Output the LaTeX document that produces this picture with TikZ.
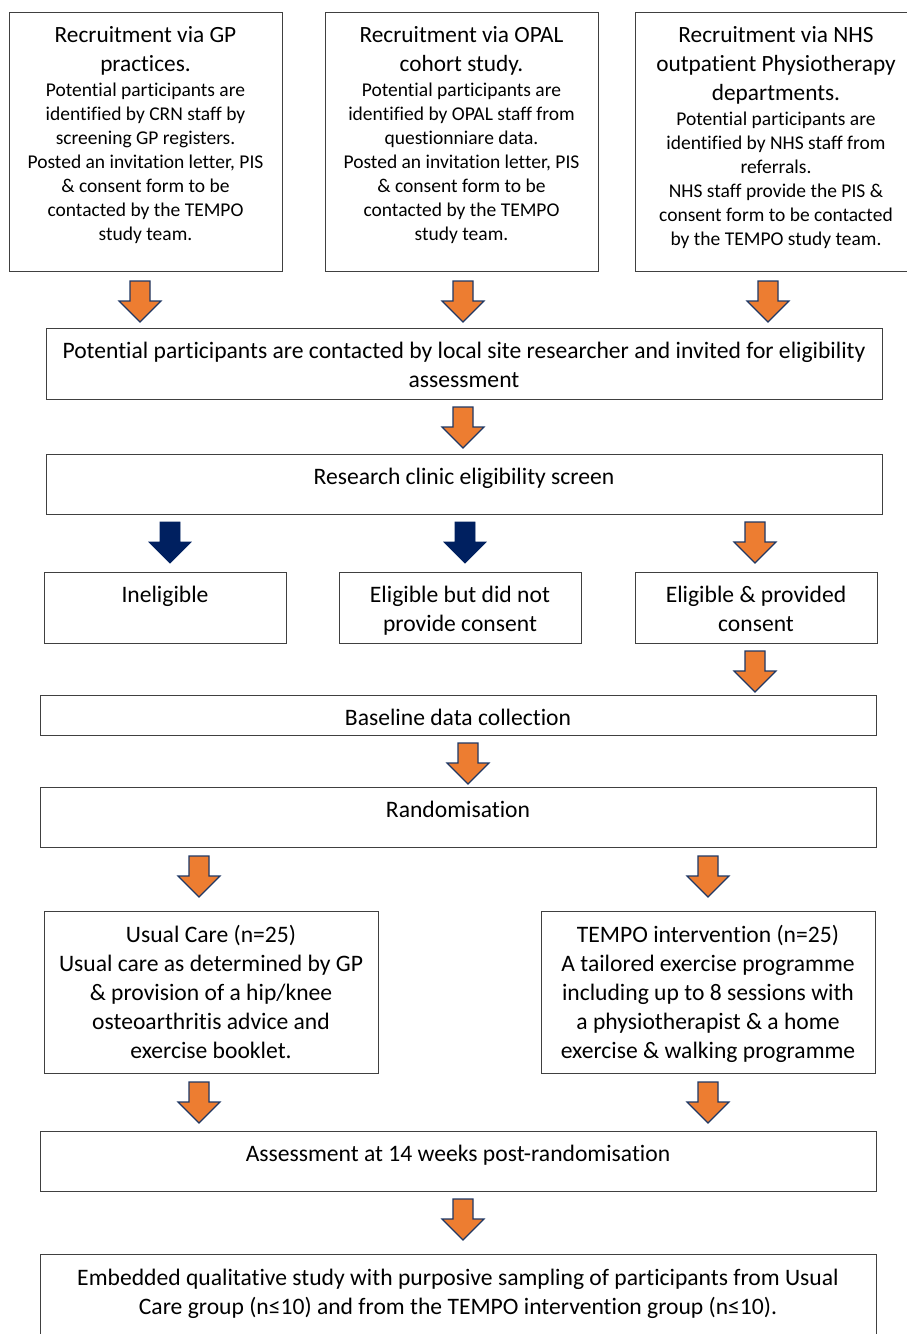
\documentclass[tikz,border=0pt]{standalone}
\usepackage{fontspec}
\setmainfont{Carlito}[Ligatures={NoCommon}]
\definecolor{arrfill}{HTML}{ED7D31}
\definecolor{arrline}{HTML}{203864}
\definecolor{navyfill}{HTML}{002060}
\definecolor{boxline}{HTML}{404040}
\begin{document}
\begin{tikzpicture}[x=1pt,y=1pt,
  box/.style={draw=boxline, line width=1, anchor=north west, inner sep=0, fill=white},
  txt/.style={anchor=north, inner sep=0, align=center},
  ttl/.style={font=\fontsize{23.3}{29}\selectfont},
  bdy/.style={font=\fontsize{19.5}{24}\selectfont},
  mn/.style={font=\fontsize{23.6}{29}\selectfont},
  orangearr/.style={fill=arrfill, draw=arrline, line width=1.2, line join=miter},
  navyarr/.style={fill=navyfill, draw=navyfill, line width=0.8},
  darr/.pic={\path[pic actions] (-10,0) -- (10,0) -- (10,-20) -- (21,-20) -- (0,-41) -- (-21,-20) -- (-10,-20) -- cycle;}
]
\useasboundingbox (0,0) rectangle (907,-1334);
\clip (0,0) rectangle (907,-1334);
\fill[white] (0,0) rectangle (907,-1334);

% top boxes
\node[box, minimum width=273, minimum height=259] (gp) at (9,-12) {};
\node[box, minimum width=273, minimum height=259] (opal) at (325,-12) {};
\node[box, minimum width=282, minimum height=259] (nhs) at (635,-12) {};
\node[txt, ttl] (gpt) at (145.5,-26) {Recruitment via GP\\practices.};
\node[txt, bdy] (gpb) at (145.5,-83) {Potential participants are\\identified by CRN staff by\\screening GP registers.\\Posted an invitation letter, PIS\\\& consent form to be\\contacted by the TEMPO\\study team.};
\node[txt, ttl] (opalt) at (461.5,-26) {Recruitment via OPAL\\cohort study.};
\node[txt, bdy] (opalb) at (461.5,-83) {Potential participants are\\identified by OPAL staff from\\questionniare data.\\Posted an invitation letter, PIS\\\& consent form to be\\contacted by the TEMPO\\study team.};
\node[txt, ttl] (nhst) at (776,-26) {Recruitment via NHS\\outpatient Physiotherapy\\departments.};
\node[txt, bdy] (nhsb) at (776,-112) {Potential participants are\\identified by NHS staff from\\referrals.\\NHS staff provide the PIS \&\\consent form to be contacted\\by the TEMPO study team.};

\pic[orangearr] at (140,-281) {darr};
\pic[orangearr] at (463,-281) {darr};
\pic[orangearr] at (768,-281) {darr};

\node[box, minimum width=836, minimum height=71] (contact) at (46,-328) {};
\node[txt, mn] (contactt) at (464,-342) {Potential participants are contacted by local site researcher and invited for eligibility\\assessment};

\pic[orangearr] at (463,-407) {darr};

\node[box, minimum width=836, minimum height=60] (screen) at (46,-454) {};
\node[txt, mn] (screent) at (464,-468) {Research clinic eligibility screen};

\pic[navyarr] at (170,-522) {darr};
\pic[navyarr] at (465,-522) {darr};
\pic[orangearr] at (755,-522) {darr};

\node[box, minimum width=242, minimum height=71] (inel) at (44,-572) {};
\node[box, minimum width=242, minimum height=71] (nocons) at (339,-572) {};
\node[box, minimum width=242, minimum height=71] (cons) at (635,-572) {};
\node[txt, mn] (inelt) at (165,-586) {Ineligible};
\node[txt, mn] (noconst) at (460,-586) {Eligible but did not\\provide consent};
\node[txt, mn] (const) at (756,-586) {Eligible \& provided\\consent};

\pic[orangearr] at (755,-651) {darr};

\node[box, minimum width=836, minimum height=40] (base) at (40,-695) {};
\node[txt, mn] (baset) at (458,-709) {Baseline data collection};

\pic[orangearr] at (468,-743) {darr};

\node[box, minimum width=836, minimum height=60] (rand) at (40,-787) {};
\node[txt, mn] (randt) at (458,-801) {Randomisation};

\pic[orangearr] at (199,-856) {darr};
\pic[orangearr] at (708,-856) {darr};

\node[box, minimum width=334, minimum height=162] (uc) at (44,-911) {};
\node[box, minimum width=334, minimum height=162] (tempo) at (541,-911) {};
\node[txt, mn] (uct) at (211,-925) {Usual Care (n=25)\\Usual care as determined by GP\\\& provision of a hip/knee\\osteoarthritis advice and\\exercise booklet.};
\node[txt, mn] (tempot) at (708,-925) {TEMPO intervention (n=25)\\A tailored exercise programme\\including up to 8 sessions with\\a physiotherapist \& a home\\exercise \& walking programme};

\pic[orangearr] at (199,-1082) {darr};
\pic[orangearr] at (708,-1082) {darr};

\node[box, minimum width=836, minimum height=60] (assess) at (40,-1131) {};
\node[txt, mn] (assesst) at (458,-1145) {Assessment at 14 weeks post-randomisation};

\pic[orangearr] at (463,-1199) {darr};

\node[box, minimum width=836, minimum height=100] (qual) at (40,-1254) {};
\node[txt, mn] (qualt) at (458,-1269) {Embedded qualitative study with purposive sampling of participants from Usual\\Care group (n≤10) and from the TEMPO intervention group (n≤10).};
\end{tikzpicture}
\end{document}
